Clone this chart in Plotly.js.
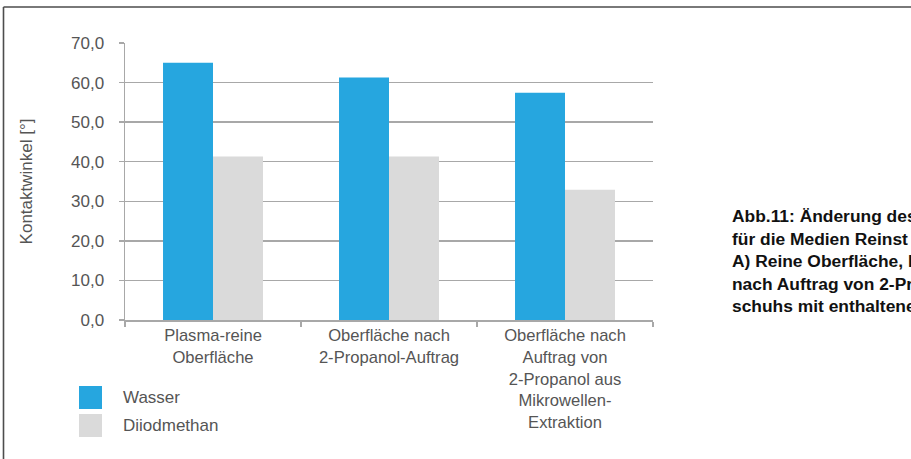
<!DOCTYPE html>
<html>
<head>
<meta charset="utf-8">
<script src="https://cdn.plot.ly/plotly-3.0.1.min.js"></script>
<style>
  html, body { margin: 0; padding: 0; background: #fff; }
  #chart { width: 911px; height: 459px; }
</style>
</head>
<body>
<div id="chart"></div>
<script>
// Kontaktwinkel nach Oberflächenbehandlung
const categories = [
  'Plasma-reine<br>Oberfläche',
  'Oberfläche nach<br>2-Propanol-Auftrag',
  'Oberfläche nach<br>Auftrag von<br>2-Propanol aus<br>Mikrowellen-<br>Extraktion'
];
const seriesNames = ['Wasser', 'Diiodmethan'];
const wasser = [65.0, 61.3, 57.4];
const diiodmethan = [41.3, 41.3, 32.9];
const yTickValues = [0, 10, 20, 30, 40, 50, 60, 70];
const captionLines = [
  'Abb.11: Änderung des',
  'für die Medien Reinst',
  'A) Reine Oberfläche, B',
  'nach Auftrag von 2-Pr',
  'schuhs mit enthaltene'
];

const W = 911, H = 459;
const M = { l: 125, r: 258, t: 43, b: 139 };
const PW = W - M.l - M.r, PH = H - M.t - M.b;
// pixel -> paper helpers for layout decorations
const px = x => (x - M.l) / PW;
const py = y => (H - M.b - y) / PH;

const colors = ['#26a6df', '#dadada'];
const textColor = '#555555';
const gridColor = '#a8a8a8';
const font = 'Liberation Sans, Arial, sans-serif';

const traces = [wasser, diiodmethan].map((vals, i) => ({
  type: 'bar',
  name: seriesNames[i],
  x: categories,
  y: vals,
  marker: { color: colors[i], line: { width: 0 } },
  hoverinfo: 'skip'
}));

const shapes = [
  // outer frame (top and left edges)
  { type: 'line', xref: 'paper', yref: 'paper', x0: px(3.5), x1: px(915), y0: py(7), y1: py(7),
    line: { color: '#4d4d4d', width: 1.6 } },
  { type: 'line', xref: 'paper', yref: 'paper', x0: px(3.5), x1: px(3.5), y0: py(7), y1: py(465),
    line: { color: '#4d4d4d', width: 1.6 } }
];
const annotations = [];

// legend swatches and labels
const legendTops = [386, 414];
seriesNames.forEach((name, i) => {
  const top = legendTops[i];
  shapes.push({ type: 'rect', xref: 'paper', yref: 'paper',
    x0: px(79), x1: px(102), y0: py(top + 23), y1: py(top),
    fillcolor: colors[i], line: { width: 0 } });
  annotations.push({ xref: 'paper', yref: 'paper', x: px(121), y: py(top + 11),
    xanchor: 'left', yanchor: 'middle', showarrow: false, text: name,
    font: { family: font, size: 17, color: textColor } });
});

// figure caption on the right
annotations.push({
  xref: 'paper', yref: 'paper', x: px(730), y: py(261),
  xanchor: 'left', yanchor: 'middle', align: 'left', showarrow: false,
  text: captionLines.map(l => '<b>' + l + '</b>').join('<br>'),
  font: { family: font, size: 17.4, color: '#111111' }
});

const layout = {
  width: W, height: H,
  margin: M,
  paper_bgcolor: '#ffffff',
  plot_bgcolor: '#ffffff',
  separators: ',.',
  showlegend: false,
  barmode: 'group',
  bargap: 0.432,
  bargroupgap: 0,
  font: { family: font, size: 17, color: textColor },
  xaxis: {
    type: 'category',
    showline: true, linecolor: gridColor, linewidth: 1.5,
    ticks: 'outside', tickson: 'boundaries', ticklen: 5, tickcolor: gridColor, tickwidth: 1.3,
    showgrid: false, zeroline: false,
    tickfont: { family: font, size: 16.6, color: textColor },
    fixedrange: true
  },
  yaxis: {
    range: [0, 70],
    tickvals: yTickValues,
    tickformat: '.1f',
    showline: true, linecolor: gridColor, linewidth: 1.5,
    ticks: 'outside', ticklen: 5, tickcolor: gridColor, tickwidth: 1.3,
    ticklabelstandoff: 11,
    showgrid: true, gridcolor: gridColor, gridwidth: 1.3,
    zeroline: false,
    tickfont: { family: font, size: 17, color: textColor },
    title: { text: 'Kontaktwinkel [°]', standoff: 34,
      font: { family: font, size: 17, color: textColor } },
    automargin: false,
    fixedrange: true
  },
  shapes: shapes,
  annotations: annotations
};

Plotly.newPlot('chart', traces, layout, { staticPlot: true, displayModeBar: false });
</script>
</body>
</html>
